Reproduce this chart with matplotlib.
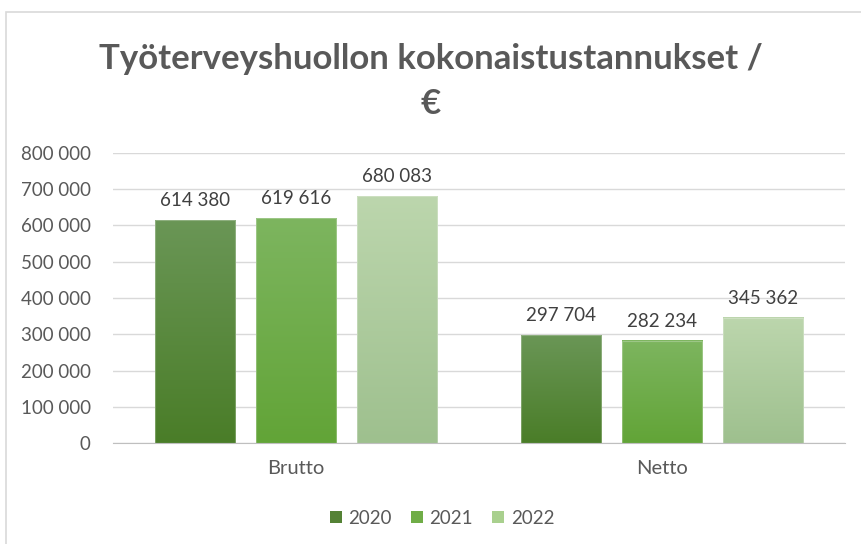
import matplotlib
matplotlib.use("Agg")
import matplotlib.pyplot as plt
import numpy as np
from matplotlib.colors import LinearSegmentedColormap
from matplotlib.patches import Rectangle, Patch

# ── Data ──────────────────────────────────────────────────────────────────────
categories = ["Brutto", "Netto"]
years = ["2020", "2021", "2022"]
values_2020 = [614380, 297704]
values_2021 = [619616, 282234]
values_2022 = [680083, 345362]
yticks = [0, 100000, 200000, 300000, 400000, 500000, 600000, 700000, 800000]

series = [values_2020, values_2021, values_2022]
legend_colors = ["#548235", "#70ad47", "#a9d08e"]
grad_top = ["#6a9656", "#7db55f", "#bcd6ad"]
grad_bottom = ["#4a7d28", "#62a437", "#9ec08e"]

TEXT = "#595959"
plt.rcParams["font.family"] = ["Lato", "DejaVu Sans"]


def fmt(v):
    return f"{v:,}".replace(",", " ")


fig = plt.figure(figsize=(8.61, 5.44), dpi=100)
ax = fig.add_axes([113 / 861, 101 / 544, 732 / 861, 290 / 544])

x = np.arange(len(categories))
width = 0.221
step = 0.276

for i, vals in enumerate(series):
    bars = ax.bar(x + (i - 1) * step, vals, width, color=legend_colors[i],
                  edgecolor="none", zorder=2)
    cmap = LinearSegmentedColormap.from_list(f"g{i}", [grad_bottom[i], grad_top[i]])
    grad = np.linspace(0, 1, 256).reshape(-1, 1)
    for b, v in zip(bars, vals):
        bx, bw, bh = b.get_x(), b.get_width(), b.get_height()
        ax.imshow(grad, cmap=cmap, origin="lower", aspect="auto",
                  extent=(bx, bx + bw, 0, bh), zorder=3)
        ax.add_patch(Rectangle((bx, 0), bw, bh, fill=False,
                               edgecolor="#ffffff", alpha=0.25, lw=0.8, zorder=4))
        ax.annotate(fmt(v), (bx + bw / 2, bh), xytext=(0, 8),
                    textcoords="offset points", ha="center", va="bottom",
                    fontsize=13.5, color="#404040")

ax.set_xlim(-0.5, 1.5)
ax.set_ylim(0, 800000)
ax.set_yticks(yticks)
ax.set_yticklabels([fmt(t) for t in yticks])
ax.set_xticks(x)
ax.set_xticklabels(categories)
ax.tick_params(axis="y", length=0, pad=16, labelsize=13.5, labelcolor=TEXT)
ax.tick_params(axis="x", length=0, pad=12, labelsize=14.5, labelcolor=TEXT)
ax.grid(axis="y", color="#d9d9d9", linewidth=1, zorder=0)
ax.set_axisbelow(True)
for s in ["top", "right", "left"]:
    ax.spines[s].set_visible(False)
ax.spines["bottom"].set_color("#bfbfbf")
ax.spines["bottom"].set_zorder(5)

fig.text(0.5, 1 - 59 / 544, "Työterveyshuollon kokonaistustannukset /",
         ha="center", va="center", fontsize=25, fontweight="bold", color=TEXT)
fig.text(0.5, 1 - 104 / 544, "€", ha="center", va="center",
         fontsize=25, fontweight="bold", color=TEXT)

handles = [Patch(facecolor=c, edgecolor="none") for c in legend_colors]
fig.legend(handles, years, loc="center", bbox_to_anchor=(442 / 861, 1 - 518 / 544),
           ncol=3, frameon=False, fontsize=13.5, labelcolor=TEXT,
           handlelength=0.65, handleheight=0.65, handletextpad=0.35, columnspacing=1.0)

# outer chart frame
fig.patches.append(Rectangle((6 / 861, -0.1), 1.0, 1.1 - 12 / 544, fill=False,
                             edgecolor="#d9d9d9", linewidth=1.2,
                             transform=fig.transFigure, figure=fig))

fig.savefig("out.png", dpi=100)
